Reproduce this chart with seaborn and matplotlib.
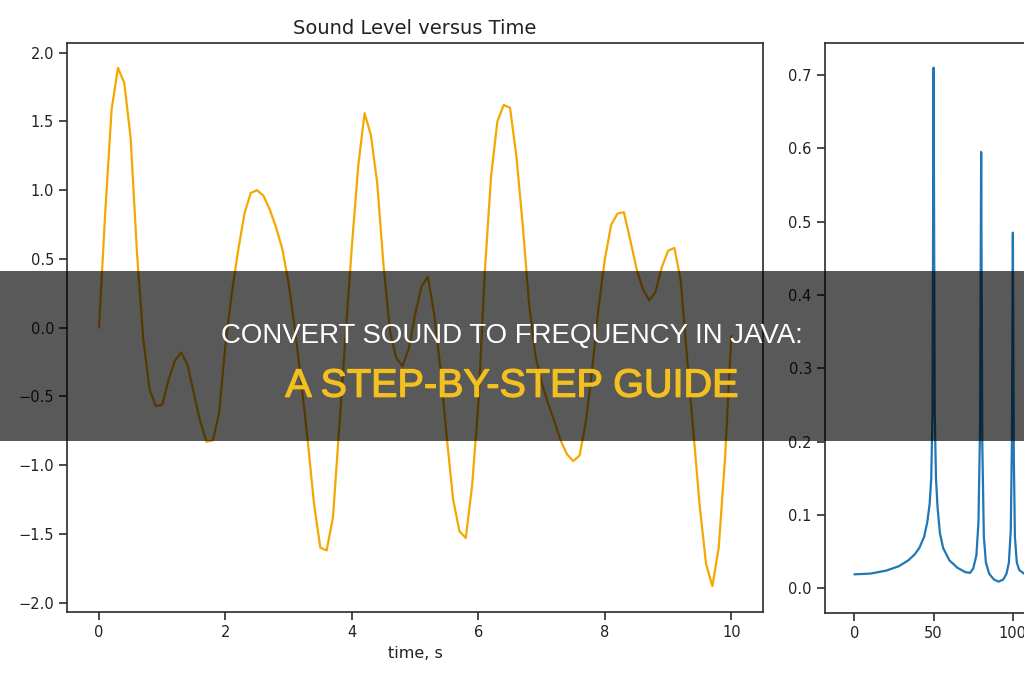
import numpy as np
import pandas as pd
import matplotlib
matplotlib.use("Agg")
import matplotlib.pyplot as plt
import matplotlib.patheffects as pe
from matplotlib.patches import Rectangle
from matplotlib.ticker import MultipleLocator
import seaborn as sns

# ses seviyesi, 0-10 s arasi 0.1 s aralikla okunan degerler
sound_level = [
    0.00, 0.85, 1.59, 1.89, 1.78, 1.38, 0.55, -0.08, -0.45, -0.57,
    -0.56, -0.38, -0.24, -0.18, -0.27, -0.48, -0.68, -0.83, -0.82, -0.62,
    -0.12, 0.25, 0.56, 0.83, 0.98, 1.00, 0.96, 0.86, 0.73, 0.57,
    0.32, -0.02, -0.40, -0.82, -1.28, -1.60, -1.62, -1.38, -0.72, -0.05,
    0.60, 1.18, 1.56, 1.40, 1.05, 0.45, -0.02, -0.22, -0.28, -0.15,
    0.10, 0.30, 0.37, 0.10, -0.30, -0.80, -1.25, -1.48, -1.53, -1.15,
    -0.55, 0.40, 1.10, 1.50, 1.62, 1.60, 1.25, 0.75, 0.18, -0.20,
    -0.40, -0.55, -0.68, -0.82, -0.92, -0.97, -0.93, -0.68, -0.30, 0.15,
    0.50, 0.75, 0.83, 0.84, 0.64, 0.43, 0.28, 0.20, 0.26, 0.44,
    0.56, 0.58, 0.34, -0.22, -0.76, -1.30, -1.72, -1.88, -1.60, -0.95,
    -0.06,
]
time_s = np.linspace(0, 10, len(sound_level))

# frekans spektrumu (goruntuden okunan noktalar)
freq = [0, 10, 20, 28, 34, 38, 41, 44, 46, 47.5, 48.5, 49.3, 50, 50.7, 51.5,
        52.5, 54, 56, 60, 65, 70, 73, 75, 77, 78.3, 79.3, 80, 80.7, 81.7, 83,
        85, 88, 91, 94, 96, 97.5, 98.7, 99.4, 100, 100.6, 101.3, 102.5, 104,
        107, 110, 115]
amplitude = [0.019, 0.020, 0.024, 0.030, 0.038, 0.046, 0.055, 0.070, 0.090,
             0.115, 0.150, 0.24, 0.71, 0.24, 0.15, 0.11, 0.075, 0.055, 0.038,
             0.028, 0.022, 0.021, 0.027, 0.045, 0.09, 0.22, 0.595, 0.20, 0.07,
             0.035, 0.020, 0.012, 0.009, 0.012, 0.020, 0.035, 0.08, 0.20,
             0.485, 0.18, 0.07, 0.035, 0.025, 0.020, 0.019, 0.020]

banner_line1 = "CONVERT SOUND TO FREQUENCY IN JAVA:"
banner_line2 = "A STEP-BY-STEP GUIDE"

sns.set_theme(style="ticks")
plt.rcParams["font.family"] = ["DejaVu Sans"]
plt.rcParams["axes.edgecolor"] = "#333333"
plt.rcParams["xtick.color"] = "#333333"
plt.rcParams["ytick.color"] = "#333333"

fig = plt.figure(figsize=(10.24, 6.8), dpi=100)

# sol grafik: zamana gore ses seviyesi
ax1 = fig.add_axes([0.0658, 0.0996, 0.6793, 0.8376])
df_time = pd.DataFrame({"time": time_s, "level": sound_level})
sns.lineplot(data=df_time, x="time", y="level", color="#f5a800", linewidth=1.6, ax=ax1)
ax1.set_xlim(-0.5, 10.5)
ax1.set_ylim(-2.07, 2.073)
ax1.yaxis.set_major_locator(MultipleLocator(0.5))
ax1.xaxis.set_major_locator(MultipleLocator(2))
ax1.set_title("Sound Level versus Time", fontsize=14, color="#222222")
ax1.set_xlabel("time, s", fontsize=11.5, color="#222222")
ax1.set_ylabel("")
ax1.tick_params(labelsize=10.5, labelcolor="#222222")

# sag grafik: frekans spektrumu (figurun disina tasiyor)
ax2 = fig.add_axes([0.8057, 0.0990, 0.6168, 0.8385])
df_freq = pd.DataFrame({"freq": freq, "amp": amplitude})
sns.lineplot(data=df_freq, x="freq", y="amp", color="#1f77b4", linewidth=1.6, ax=ax2)
ax2.set_xlim(-18.5, 380)
ax2.set_ylim(-0.0333, 0.7443)
ax2.xaxis.set_major_locator(MultipleLocator(50))
ax2.yaxis.set_major_locator(MultipleLocator(0.1))
ax2.set_xlabel("")
ax2.set_ylabel("")
ax2.tick_params(labelsize=10.5, labelcolor="#222222")

# baslik bandi
band = Rectangle((0, 1 - 440.7 / 680), 1, (440.7 - 271) / 680,
                 transform=fig.transFigure, facecolor="black", alpha=0.65,
                 edgecolor="none", zorder=10)
fig.add_artist(band)
fig.text(0.5, 1 - 343.3 / 680, banner_line1, ha="center", va="baseline",
         fontsize=19.9, color="white", family=["Liberation Sans", "DejaVu Sans"],
         zorder=11)
fig.text(0.5, 1 - 396.7 / 680, banner_line2, ha="center", va="baseline",
         fontsize=28.5, color="#f4c020", family=["Liberation Sans", "DejaVu Sans"],
         zorder=11,
         path_effects=[pe.withStroke(linewidth=0.9, foreground="#f4c020")])

fig.savefig("out.png", dpi=100)
